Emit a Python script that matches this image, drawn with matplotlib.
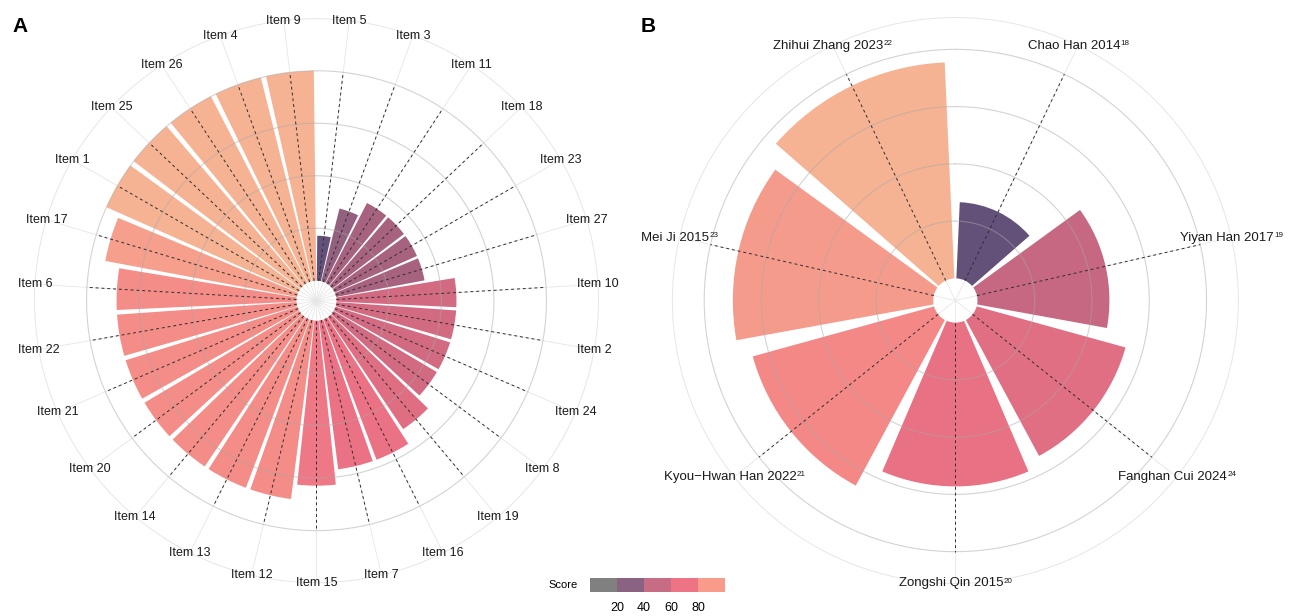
import numpy as np
import matplotlib.pyplot as plt
import matplotlib as mpl
from matplotlib.colors import LinearSegmentedColormap, ListedColormap, BoundaryNorm, Normalize

plt.rcParams['font.family'] = ['Liberation Sans', 'DejaVu Sans']

# A: 各条目得分（7 篇研究，满足=1，部分=0.5）
items = ['Item 5', 'Item 3', 'Item 11', 'Item 18', 'Item 23', 'Item 27', 'Item 10',
         'Item 2', 'Item 24', 'Item 8', 'Item 19', 'Item 16', 'Item 7', 'Item 15',
         'Item 12', 'Item 13', 'Item 14', 'Item 20', 'Item 21', 'Item 22', 'Item 6',
         'Item 17', 'Item 1', 'Item 25', 'Item 26', 'Item 4', 'Item 9']
item_scores = [1.5, 2.5, 3, 3, 3, 3, 4, 4, 4, 4, 4.5, 5, 5, 5.5,
               6, 6, 6, 6, 6, 6, 6, 6.5, 7, 7, 7, 7, 7]
n_studies = 7

# B: 各研究总分 (%)
studies = ['Chao Han 2014', 'Yiyan Han 2017', 'Fanghan Cui 2024', 'Zongshi Qin 2015',
           'Kyou\u2212Hwan Han 2022', 'Mei Ji 2015', 'Zhihui Zhang 2023']
refs = ['18', '19', '24', '20', '21', '23', '22']
study_scores = [33.3, 57.6, 67.4, 71.5, 82.1, 87.5, 94.4]

# 图例
legend_ticks = [20, 40, 60, 80]
legend_colors = ['#808080', '#8a6282', '#c66c85', '#ee7485', '#f99b8b']

cmap = LinearSegmentedColormap.from_list('score', [
    (0.00, '#63517a'), (0.18, '#93607f'), (0.27, '#a6627f'), (0.42, '#cc6982'),
    (0.54, '#df6e83'), (0.64, '#eb7284'), (0.73, '#ef7886'), (0.81, '#f48a87'),
    (0.90, '#f59d8b'), (1.00, '#f5b394')])


def rose(ax, labels, values, inner, outer, fs, sups=None):
    n = len(values)
    theta = (np.arange(n) + 0.5) * 2 * np.pi / n
    ax.set_theta_zero_location('N')
    ax.set_theta_direction(-1)
    ax.set_ylim(-inner, outer)
    ax.grid(False)
    ax.set_xticks([])
    ax.set_yticks([])
    ax.spines['polar'].set_color('#e6e6e6')
    ax.spines['polar'].set_linewidth(0.7)

    # 径向浅灰线
    for t in theta:
        ax.plot([t, t], [-inner, outer], color='#e6e6e6', lw=0.6, zorder=0.5)

    norm = Normalize(min(values), max(values))
    ax.bar(theta, values, width=0.9 * 2 * np.pi / n, bottom=0,
           color=cmap(norm(np.array(values))), zorder=1)

    # 同心圆网格
    tt = np.linspace(0, 2 * np.pi, 400)
    for r in [25, 50, 75, 100]:
        ax.plot(tt, np.full_like(tt, r), color='#a8a8a8', alpha=0.5, lw=0.8, zorder=2)

    # 虚线
    for t in theta:
        ax.plot([t, t], [0, 100], color='#2e2e2e', lw=0.7, ls=(0, (3, 3)), zorder=3)

    # 标签（B 图带上标文献号）
    for i, (t, lab) in enumerate(zip(theta, labels)):
        dx = -3 if sups else 0
        txt = ax.annotate(lab, xy=(t, outer), xytext=(dx, 0), textcoords='offset points',
                          ha='center', va='center', fontsize=fs, color='#1a1a1a',
                          zorder=4, annotation_clip=False)
        if sups:
            ax.annotate(sups[i], xy=(1, 1), xycoords=txt, xytext=(0.3, -0.3),
                        textcoords='offset points', ha='left', va='top', fontsize=5.8,
                        color='#1a1a1a')


fig = plt.figure(figsize=(12.98, 6.16), dpi=100)

# 1 A 图
axA = fig.add_axes([0.02658, 0.05406, 0.43451, 0.91558], projection='polar')
pct = [s / n_studies * 100 for s in item_scores]
rose(axA, items, pct, 9.52, 124.8, 9)

# 2 B 图
axB = fig.add_axes([0.5180, 0.05276, 0.43606, 0.91883], projection='polar')
rose(axB, studies, study_scores, 9.66, 113.9, 9.5, sups=refs)

fig.text(20 / 1298, 1 - 27 / 616, 'A', ha='center', va='center', fontsize=15, fontweight='bold')
fig.text(648 / 1298, 1 - 27 / 616, 'B', ha='center', va='center', fontsize=15, fontweight='bold')

# 3 图例
cax = fig.add_axes([590 / 1298, (616 - 592) / 616, 135 / 1298, 14 / 616])
bounds = [0, 20, 40, 60, 80, 100]
cb = mpl.colorbar.ColorbarBase(cax, cmap=ListedColormap(legend_colors),
                               norm=BoundaryNorm(bounds, 5), orientation='horizontal',
                               ticks=legend_ticks)
cb.outline.set_visible(False)
cax.minorticks_off()
cax.tick_params(which='both', length=0, labelsize=9, pad=7)
fig.text(578 / 1298, 1 - 585 / 616, 'Score', ha='right', va='center', fontsize=8)

fig.savefig('out.png', dpi=100)
